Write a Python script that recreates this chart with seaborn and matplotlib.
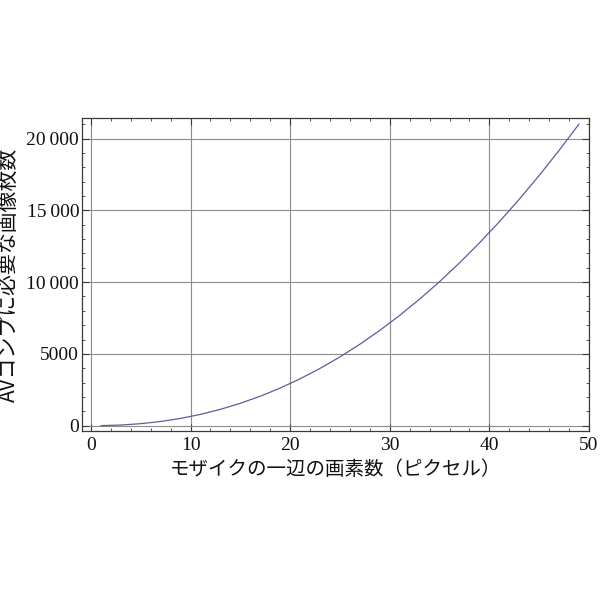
import matplotlib
matplotlib.use("Agg")
import matplotlib.pyplot as plt
from matplotlib.ticker import MultipleLocator, FuncFormatter
import seaborn as sns
import pandas as pd

# Pixels per mosaic side vs. number of images required
side_pixels = [1, 3, 5, 7, 9, 11, 13, 15, 17, 19, 21, 23, 25,
               27, 29, 31, 33, 35, 37, 39, 41, 43, 45, 47, 49]
image_counts = [4, 45, 140, 292, 508, 789, 1139, 1560, 2053, 2622, 3267, 3989, 4791,
                5674, 6639, 7686, 8818, 10034, 11337, 12727, 14206, 15773, 17428, 19176, 21015]

x_ticks = [0, 10, 20, 30, 40, 50]
y_ticks = [0, 5000, 10000, 15000, 20000]

x_label = "モザイクの一辺の画素数（ピクセル）"
y_label = "AVコンプに必要な画像枚数"

df = pd.DataFrame({"side": side_pixels, "count": image_counts})

sns.set_style("white")
plt.rcParams["font.family"] = ["Noto Sans CJK JP", "DejaVu Sans"]

fig = plt.figure(figsize=(6, 6), dpi=100)
ax = fig.add_axes([82 / 600, 1 - 431 / 600, 507 / 600, 313 / 600])

sns.lineplot(data=df, x="side", y="count", ax=ax, color="#5c5ca0", linewidth=0.9)

ax.set_xlim(-0.9, 50)
ax.set_ylim(-370, 21430)

ax.set_xticks(x_ticks)
ax.set_yticks(y_ticks)
ax.xaxis.set_minor_locator(MultipleLocator(2))
ax.yaxis.set_minor_locator(MultipleLocator(1000))


def thousands(v, pos):
    v = int(round(v))
    if v >= 10000:
        s = f"{v:d}"
        return s[:-3] + "\u2009" + s[-3:]
    return f"{v:d}"


ax.yaxis.set_major_formatter(FuncFormatter(thousands))

ax.grid(True, which="major", color="#8c8c8c", linewidth=0.8)
ax.set_axisbelow(True)

for side in ax.spines.values():
    side.set_visible(True)
    side.set_color("#3a3a3a")
    side.set_linewidth(0.9)

ax.tick_params(which="both", direction="in", top=True, right=True,
               bottom=True, left=True, color="#3a3a3a")
ax.tick_params(which="major", length=5, width=0.8)
ax.tick_params(which="minor", length=2.5, width=0.6)
ax.tick_params(axis="x", which="major", pad=4)
ax.tick_params(axis="y", which="major", pad=2)

for lab in ax.get_xticklabels() + ax.get_yticklabels():
    lab.set_family(["Liberation Serif", "DejaVu Serif"])
    lab.set_fontsize(14)
    lab.set_color("#111111")

ax.set_xlabel(x_label, fontsize=14, color="#111111", labelpad=4)
ax.set_ylabel(y_label, fontsize=15, color="#111111", labelpad=4)

fig.savefig("out.png", dpi=100, facecolor="white")
